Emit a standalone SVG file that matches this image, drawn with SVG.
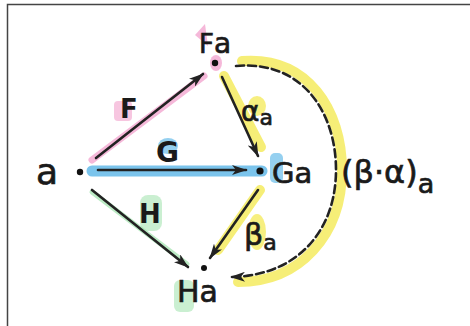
<svg xmlns="http://www.w3.org/2000/svg" width="470" height="326" viewBox="0 0 470 326">
<style>
.t{font-family:"DejaVu Sans","Liberation Sans",sans-serif;fill:#1a1a1a;stroke:#1a1a1a;stroke-width:0.7}
.lb{font-family:"DejaVu Sans","Liberation Sans",sans-serif;fill:#1a1a1a;font-weight:bold}
.arr{stroke:#222;stroke-width:2.6;fill:none;stroke-linecap:round}
.hl{fill:none;stroke-linecap:round;stroke-linejoin:round;opacity:0.75}
.sp{stroke:#f2a0cc}.fp{fill:#f2a0cc}
.sb{stroke:#4fb0e6}.fb{fill:#4fb0e6}
.sg{stroke:#a6e4b2}.fg{fill:#a6e4b2}
.sy{stroke:#f3e84a}.fy{fill:#f3e84a}
.dot{fill:#111}
</style>
<defs>
<marker id="ah" viewBox="0 0 15 10" refX="14" refY="5" markerWidth="15" markerHeight="10" markerUnits="userSpaceOnUse" orient="auto">
<path d="M0,0 L15,5 L0,10 L4,5 Z" fill="#222"/>
</marker>
</defs>
<rect x="0" y="0" width="470" height="326" fill="#fff"/>
<path d="M7.5,326 V4.5 H470" fill="none" stroke="#444" stroke-width="1.5"/>

<g id="highlights">
<line class="hl sp" x1="92" y1="160" x2="204" y2="76" stroke-width="7"/>
<path class="fp" opacity="0.75" d="M195,35 L205,24 L208,46 Z"/>
<ellipse class="fp" opacity="0.75" cx="216" cy="63" rx="6" ry="8"/>
<rect class="fp" opacity="0.6" x="114" y="101" width="18" height="20" rx="4"/>
<line class="hl sb" x1="92" y1="171" x2="262" y2="171" stroke-width="11"/>
<ellipse class="fb" opacity="0.6" cx="168" cy="146" rx="10" ry="8"/>
<rect class="fb" opacity="0.6" x="270" y="153" width="13" height="30" rx="5"/>
<line class="hl sg" x1="92" y1="192" x2="187" y2="264" stroke-width="5" opacity="0.4"/>
<rect class="fg" opacity="0.6" x="140" y="195" width="22" height="36" rx="8"/>
<rect class="fg" opacity="0.6" x="174" y="280" width="20" height="32" rx="6"/>
<line class="hl sy" x1="224" y1="76" x2="261" y2="147" stroke-width="10"/>
<ellipse class="fy" opacity="0.7" cx="257" cy="106" rx="9" ry="10"/>
<line class="hl sy" x1="260" y1="190" x2="218" y2="250" stroke-width="10"/>
<ellipse class="fy" opacity="0.7" cx="257" cy="232" rx="9" ry="18"/>
<path class="hl sy" d="M242,61 C308,56 342,110 342,170 C342,235 300,282 238,282" stroke-width="10"/>
</g>

<g id="node-a"><circle class="dot" cx="80" cy="172" r="3.2"/><text class="t" x="36" y="184" font-size="36">a</text></g>
<g id="node-Fa"><circle class="dot" cx="215" cy="63" r="3.2"/><text class="t" x="199" y="53" font-size="26">F<tspan font-size="28">a</tspan></text></g>
<g id="node-Ga"><circle class="dot" cx="260" cy="171" r="3.6"/><text class="t" x="272" y="183" font-size="29">Ga</text></g>
<g id="node-Ha"><circle class="dot" cx="204" cy="268" r="3"/><text class="t" x="177" y="302" font-size="30">Ha</text></g>

<g id="connectors">
<line class="arr" x1="96" y1="158" x2="203" y2="74" marker-end="url(#ah)"/>
<line class="arr" x1="98" y1="170" x2="246" y2="170" marker-end="url(#ah)"/>
<line class="arr" x1="92" y1="190" x2="188" y2="267" marker-end="url(#ah)"/>
<line class="arr" x1="222" y1="77" x2="258" y2="156" marker-end="url(#ah)"/>
<line class="arr" x1="258" y1="190" x2="210" y2="258" marker-end="url(#ah)"/>
<path class="arr" d="M236,66 C302,60 336,112 336,170 C336,232 296,276 231,277" stroke-dasharray="8,4" marker-end="url(#ah)"/>
</g>

<g id="labels">
<text class="lb" x="120" y="118" font-size="26">F</text>
<text class="lb" x="156" y="162" font-size="28">G</text>
<text class="lb" x="139" y="223" font-size="26">H</text>
<text class="t" x="241" y="121" font-size="28">α<tspan font-size="22" dy="4">a</tspan></text>
<text class="t" x="244" y="245" font-size="30">β<tspan font-size="22" dy="5">a</tspan></text>
<text class="t" x="341" y="183" font-size="32">(β·α)<tspan font-size="27" dy="10">a</tspan></text>
</g>
</svg>
